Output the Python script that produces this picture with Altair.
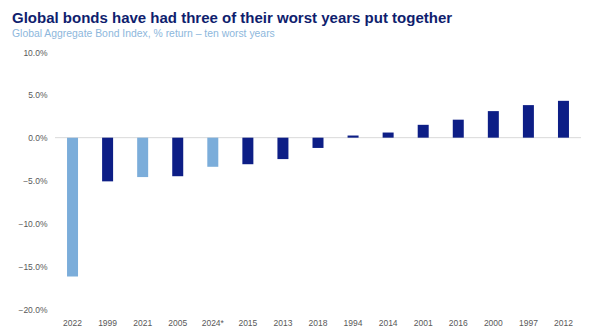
import altair as alt
import pandas as pd

years = ["2022", "1999", "2021", "2005", "2024*", "2015", "2013", "2018",
         "1994", "2014", "2001", "2016", "2000", "1997", "2012"]
returns = [-16.2, -5.1, -4.6, -4.5, -3.4, -3.1, -2.5, -1.2,
           0.25, 0.6, 1.5, 2.1, 3.1, 3.8, 4.3]
highlight = [True, False, True, False, True, False, False, False,
             False, False, False, False, False, False, False]

df = pd.DataFrame({"year": years, "ret": returns, "hl": highlight})

DARK = "#0d1e86"
LIGHT = "#7badda"

base = alt.Chart(df)

bars = base.mark_bar(size=11).encode(
    x=alt.X("year:N", sort=years, title=None,
            scale=alt.Scale(paddingInner=0.0, paddingOuter=0.0),
            axis=alt.Axis(labelAngle=0, domain=False, ticks=False, labelPadding=9,
                          labelFont="Liberation Sans", labelFontSize=8.5,
                          labelColor="#595959")),
    y=alt.Y("ret:Q", title=None,
            scale=alt.Scale(domain=[-20, 10], nice=False),
            axis=alt.Axis(values=[10, 5, 0, -5, -10, -15, -20],
                          labelExpr="format(datum.value, '.1f') + '%'",
                          domain=False, ticks=False, grid=False, labelPadding=8,
                          labelFont="Liberation Sans", labelFontSize=8.5,
                          labelColor="#595959")),
    color=alt.Color("hl:N", scale=alt.Scale(domain=[True, False], range=[LIGHT, DARK]),
                    legend=None),
)

zero = base.mark_rule(color="#d9d9d9", strokeWidth=1).encode(
    y=alt.datum(0)
).transform_filter("datum.year == '2022'")

chart = (zero + bars).properties(
    width=526, height=257,
    autosize=alt.AutoSizeParams(type="none"),
    padding={"left": 55, "top": 52, "right": 20, "bottom": 21},
    title=alt.TitleParams(
        text="Global bonds have had three of their worst years put together",
        subtitle="Global Aggregate Bond Index, % return \u2013 ten worst years",
        anchor="start", frame="group", dx=-43, offset=9,
        font="Liberation Sans", fontSize=15, fontWeight="bold", color="#0f1e6e",
        subtitleFont="Liberation Sans", subtitleFontSize=10.4, subtitleColor="#8db7dc",
        subtitlePadding=3,
    ),
).configure_view(stroke=None)

chart.save("out.html", embed_options={"renderer": "svg", "actions": False})
